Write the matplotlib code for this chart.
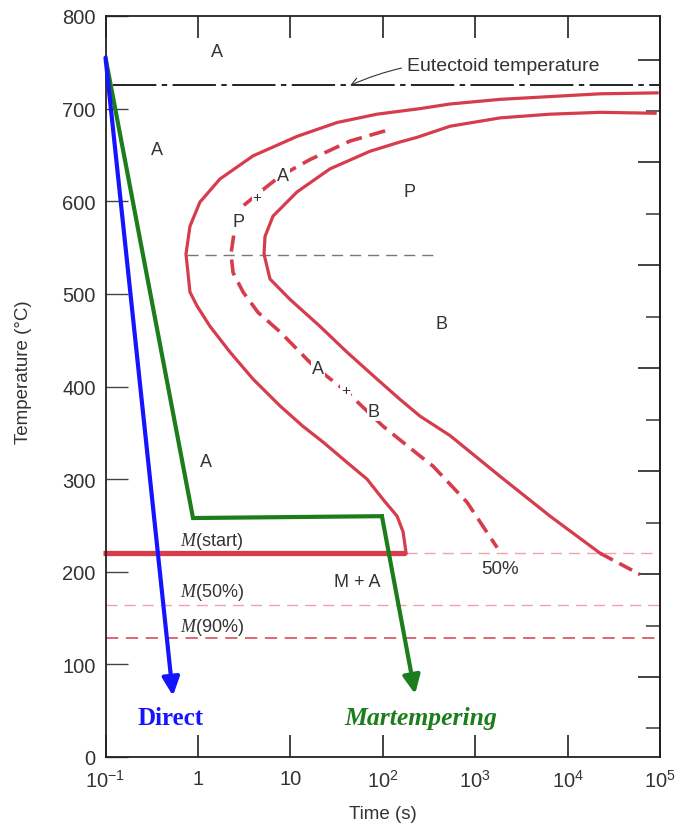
import matplotlib
matplotlib.use("Agg")
import matplotlib.pyplot as plt
from matplotlib.ticker import FixedLocator, FixedFormatter, NullLocator

plt.rcParams['font.family'] = ['Liberation Sans', 'DejaVu Sans']
plt.rcParams['mathtext.fontset'] = 'custom'
plt.rcParams['mathtext.rm'] = 'Liberation Sans'
plt.rcParams['mathtext.it'] = 'Liberation Serif:italic'

# ---- data (time in s, temperature in degC) ----
eutectoid_T = 725
eutectoid_t = [0.12, 1e5]

# start of transformation (outer C-curve)
t_start = [9.3e4, 2.25e4, 6470, 1860, 535, 253, 86.7, 32, 11.8, 3.95, 1.73, 1.05,
           0.82, 0.743, 0.82, 0.977, 1.35, 2.23, 3.95, 7.74, 13.7, 22.6, 41.1,
           67.6, 101, 143, 166, 179]
T_start = [717, 716, 713, 710, 705, 700, 694, 685, 670, 649, 624, 599, 573, 543,
           502, 487, 465, 437, 408, 379, 357, 340, 318, 300, 278, 260, 243, 220]

# 50% curve (dashed)
t_50 = [106, 44.3, 16.3, 7.74, 5.60, 3.08, 2.52, 2.28, 2.40, 3.08, 4.47, 7.74,
        16.3, 24.9, 41.1, 101, 253, 350, 817, 1730]
T_50 = [676, 665, 645, 627, 616, 595, 573, 543, 523, 502, 480, 459, 426, 411,
        394, 357, 325, 314, 275, 226]

# end of transformation (inner C-curve)
t_finish = [88500, 22500, 6470, 1860, 535, 235, 154, 72.9, 26.9, 11.8, 6.50, 5.32,
            5.19, 6.03, 9.93, 20.9, 41.1, 86.7, 154, 253, 535, 1860, 6470, 22500]
T_finish = [695, 696, 694, 690, 681, 669, 664, 654, 635, 610, 584, 562, 543, 516,
            494, 465, 437, 408, 386, 368, 347, 303, 260, 220]
t_finish_tail = [22500, 61000]
T_finish_tail = [220, 197]

nose_T = 542
nose_t = [0.76, 368]

Ms, M50, M90 = 220, 164, 128

# cooling paths
direct_t = [0.1, 0.537]
direct_T = [755, 66]
marten_t = [0.1, 0.885, 98, 224]
marten_T = [755, 258, 260, 68]

xtick_vals = [0.1, 1, 10, 100, 1000, 1e4, 1e5]
xtick_labels = ['$10^{-1}$', '1', '10', '$10^{2}$', '$10^{3}$', '$10^{4}$', '$10^{5}$']
ytick_vals = [0, 100, 200, 300, 400, 500, 600, 700, 800]

# phase labels: (text, t, T)
phase_labels = [('A', 1.61, 762), ('A', 0.36, 656), ('P', 197, 610), ('B', 436, 468),
                ('A', 1.22, 319), ('M + A', 52.6, 190)]
curve_labels = [('P', 2.72, 578), ('+', 4.37, 605), ('A', 8.3, 628),
                ('A', 20, 419), ('+', 40, 396), ('B', 80, 373)]

red = '#d63c4c'
pink = '#f2a0a9'
green = '#1b7d1b'
blue = '#1414ff'
txt = '#333333'

fig = plt.figure(figsize=(6.78, 8.28), dpi=100)
ax = fig.add_axes([105.5 / 678, 70 / 828, 554.5 / 678, 741 / 828])
ax.set_xscale('log')
ax.set_xlim(0.1, 1e5)
ax.set_ylim(0, 800)

# horizontal reference lines
ax.plot(eutectoid_t, [eutectoid_T] * 2, color='#111111', lw=1.3, ls=(0, (24, 3, 3, 3)))
ax.plot(nose_t, [nose_T] * 2, color='#777777', lw=1.0, ls=(0, (8, 5)))
ax.plot([t_start[-1], 1e5], [Ms, Ms], color=pink, lw=1.0, ls=(0, (8, 5)))
ax.plot([0.1, 1e5], [M50, M50], color=pink, lw=1.0, ls=(0, (8, 5)))
ax.plot([0.1, 1e5], [M90, M90], color=red, lw=1.1, ls=(0, (8, 5)))

# transformation curves
ax.plot(t_start, T_start, color=red, lw=2.3, solid_joinstyle='round')
ax.plot([0.095, t_start[-1]], [Ms, Ms], color=red, lw=3.8, clip_on=False,
        solid_capstyle='butt')
ax.plot(t_finish, T_finish, color=red, lw=2.3, solid_joinstyle='round')
ax.plot(t_finish_tail, T_finish_tail, color=red, lw=2.6, ls=(0, (4, 2)))
ax.plot(t_50, T_50, color=red, lw=2.6, ls=(0, (4.5, 2.2)))

# cooling paths
arrow = '-|>,head_length=0.55,head_width=0.26'
ax.annotate('', xy=(direct_t[1], direct_T[1]), xytext=(direct_t[0], direct_T[0]),
            arrowprops=dict(arrowstyle=arrow, color=blue, lw=3, mutation_scale=20,
                            shrinkA=0, shrinkB=0))
ax.plot(marten_t[:-1], marten_T[:-1], color=green, lw=3, solid_joinstyle='miter')
ax.annotate('', xy=(marten_t[-1], marten_T[-1]), xytext=(marten_t[-2], marten_T[-2]),
            arrowprops=dict(arrowstyle=arrow, color=green, lw=3, mutation_scale=20,
                            shrinkA=0, shrinkB=0))

# texts
for s, t, T in phase_labels:
    ax.text(t, T, s, color=txt, fontsize=13, ha='center', va='center')
for s, t, T in curve_labels:
    ax.text(t, T, s, color=txt, fontsize=13 if s != '+' else 11, ha='center', va='center',
            bbox=dict(fc='white', ec='none', pad=0.8))
ax.text(1862, 203, '50%', color=txt, fontsize=13.5, ha='center', va='center')
ax.text(0.64, 234, r'$M$(start)', color=txt, fontsize=13, ha='left', va='center')
ax.text(0.64, 179, r'$M$(50%)', color=txt, fontsize=13, ha='left', va='center')
ax.text(0.64, 141, r'$M$(90%)', color=txt, fontsize=13, ha='left', va='center')
ax.text(0.5, 43, 'Direct', color=blue, fontsize=18, fontweight='bold',
        family='Liberation Serif', ha='center', va='center')
ax.text(260, 43, 'Martempering', color=green, fontsize=18.5, fontweight='bold',
        style='italic', family='Liberation Serif', ha='center', va='center')
ax.annotate('Eutectoid temperature', xy=(44.3, eutectoid_T), xytext=(183, 747),
            color=txt, fontsize=14, ha='left', va='center',
            arrowprops=dict(arrowstyle='->', color='#333333', lw=0.8,
                            connectionstyle='arc3,rad=0.15', shrinkA=2, shrinkB=0))

# axes styling
ax.xaxis.set_major_locator(FixedLocator(xtick_vals))
ax.xaxis.set_major_formatter(FixedFormatter(xtick_labels))
ax.xaxis.set_minor_locator(NullLocator())
ax.set_yticks(ytick_vals)
ax.tick_params(axis='x', which='major', direction='in', length=16, width=1.2,
               top=True, labelsize=14.5, labelcolor=txt, color='#222222', pad=9)
ax.tick_params(axis='y', which='major', direction='in', length=16, width=1.0,
               labelsize=14.5, labelcolor=txt, color='#444444', pad=7)
for sp in ax.spines.values():
    sp.set_linewidth(1.3)
    sp.set_color('#222222')

# right axis in degF (ticks only)
sec = ax.secondary_yaxis('right', functions=(lambda c: (c + 7) * 9 / 5 + 32,
                                             lambda f: (f - 32) * 5 / 9 - 7))
sec.set_yticks(range(200, 1401, 200))
sec.set_yticks(range(100, 1400, 200), minor=True)
sec.tick_params(which='major', direction='in', length=16, width=1.2, labelright=False,
                color='#222222')
sec.tick_params(which='minor', direction='in', length=10, width=1.2, color='#444444')
sec.spines['right'].set_linewidth(1.3)

ax.set_xlabel('Time (s)', fontsize=13.5, color=txt, labelpad=10)
ax.set_ylabel('Temperature (\u00b0C)', fontsize=13.5, color=txt)
ax.yaxis.set_label_coords(-0.133, 0.52)

fig.savefig('out.png', dpi=100)
